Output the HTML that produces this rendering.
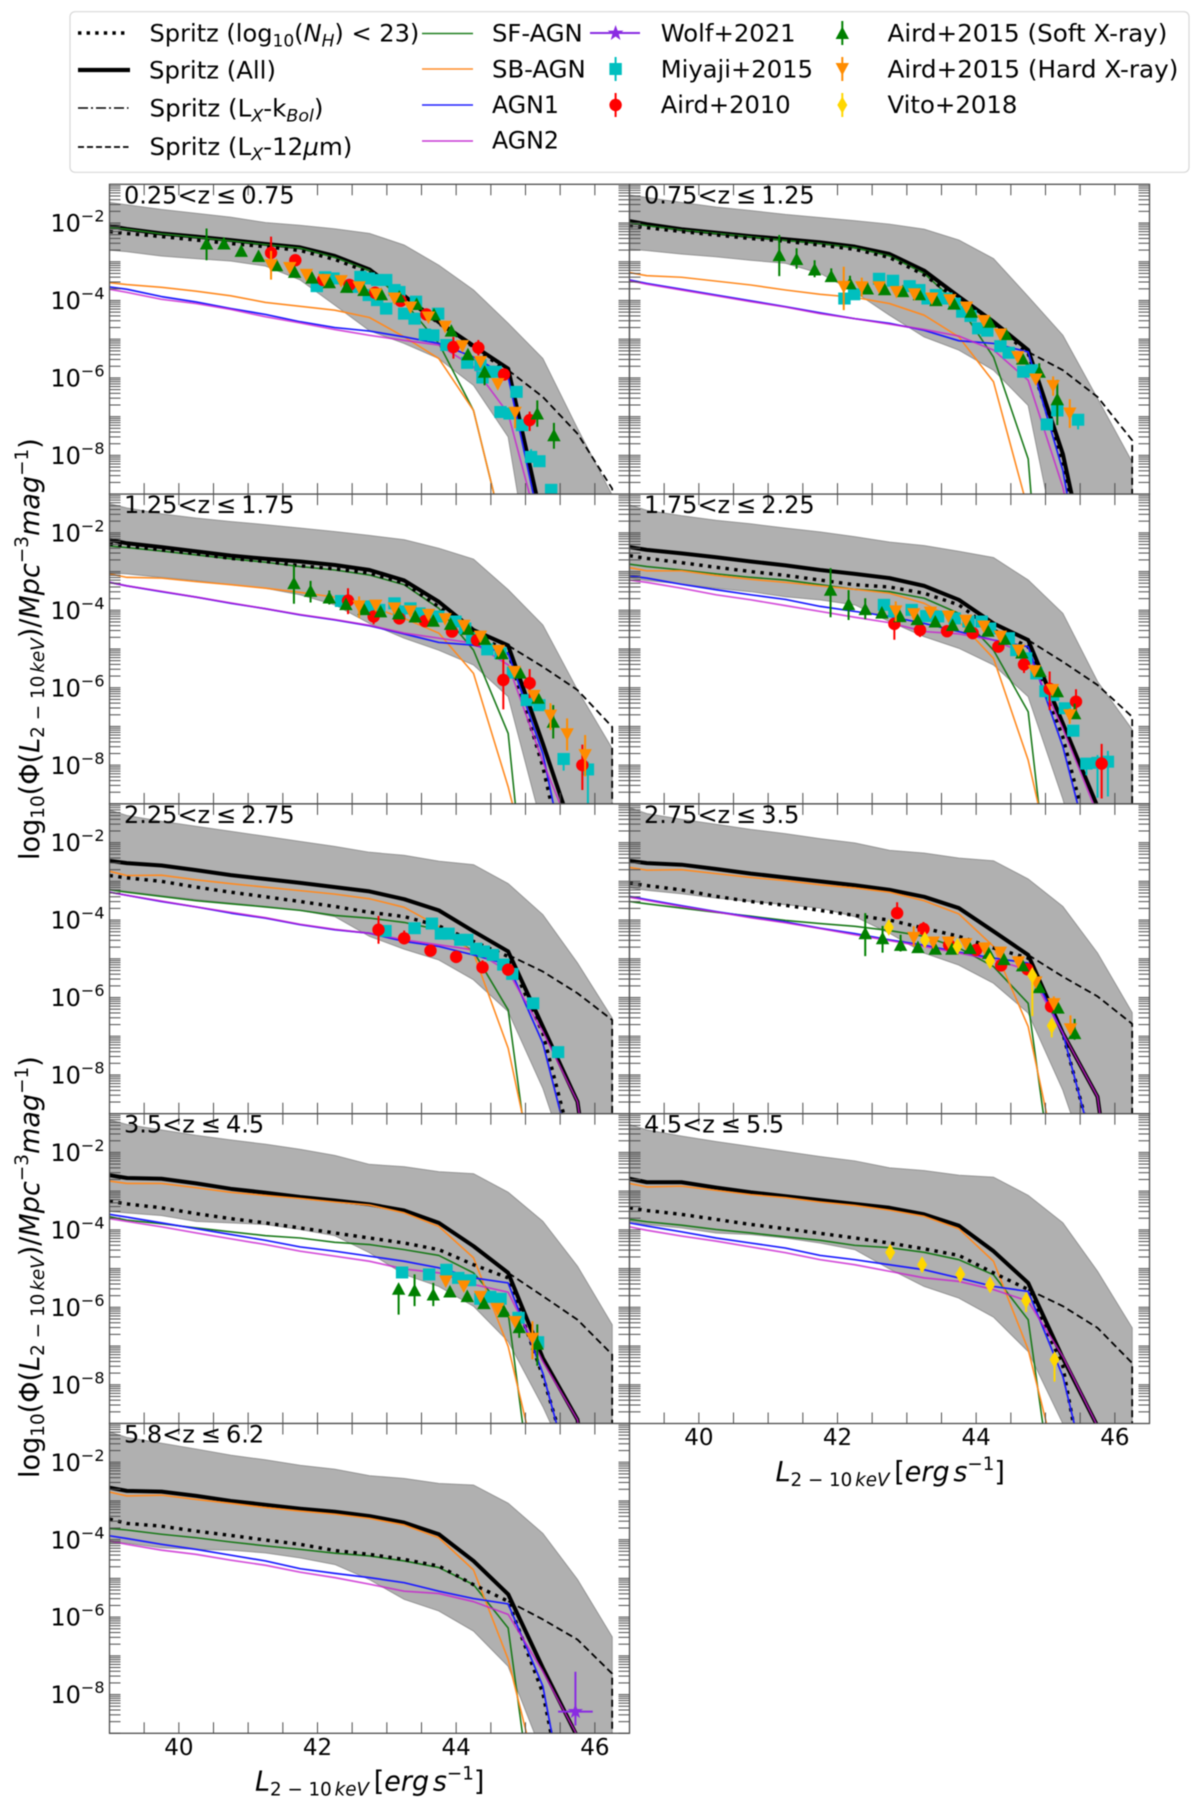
<!DOCTYPE html>
<html lang="en">
<head>
<meta charset="utf-8">
<title>X-ray luminosity functions</title>
<style>
html,body{margin:0;padding:0;background:#fff;width:1200px;height:1812px;overflow:hidden}
svg{display:block;filter:blur(0.4px)}
text{font-family:"DejaVu Sans","Liberation Sans",sans-serif;fill:#000}
.it{font-style:italic}
</style>
</head>
<body>
<svg id="chart" xmlns="http://www.w3.org/2000/svg" width="1200" height="1812" viewBox="0 0 1200 1812">
<rect x="0" y="0" width="1200" height="1812" fill="#fff"/>
<g id="panels"></g>

<g>
<rect x="70" y="11.7" width="1119" height="160.6" rx="5" fill="#fff" stroke="#d8d8d8" stroke-width="1.2"/>
<g>
<line x1="78" x2="128.5" y1="33" y2="33" stroke="#000" stroke-width="3.4" stroke-dasharray="3.4 5.2"/>
<text data-fit="270" data-tf="translate(149.5 41.5)" font-size="24">Spritz (log<tspan font-size="17" dy="5">10</tspan><tspan dy="-5">(</tspan><tspan class="it">N</tspan><tspan class="it" font-size="17" dy="5">H</tspan><tspan dy="-5">) &lt; 23)</tspan></text>
</g>
<g>
<line x1="78" x2="130" y1="70" y2="70" stroke="#000" stroke-width="4.2"/>
<text data-fit="127" data-tf="translate(149 78.5)" font-size="24">Spritz (All)</text>
</g>
<g>
<line x1="78" x2="128.5" y1="108" y2="108" stroke="#000" stroke-width="1.6" stroke-dasharray="10 3 2 3"/>
<text data-fit="174" data-tf="translate(149.5 116.5)" font-size="24">Spritz (L<tspan class="it" font-size="17" dy="5">X</tspan><tspan dy="-5">-k</tspan><tspan class="it" font-size="17" dy="5">Bol</tspan><tspan dy="-5">)</tspan></text>
</g>
<g>
<line x1="78" x2="128.5" y1="147" y2="147" stroke="#000" stroke-width="1.7" stroke-dasharray="6 3"/>
<text data-fit="203" data-tf="translate(149.5 155)" font-size="24">Spritz (L<tspan class="it" font-size="17" dy="5">X</tspan><tspan dy="-5">-12</tspan><tspan class="it">μ</tspan>m)</text>
</g>
<g>
<line x1="422" x2="473" y1="33.5" y2="33.5" stroke="#1f7f1f" stroke-width="1.6"/>
<text data-fit="90.7" data-tf="translate(492 41.5)" font-size="24">SF-AGN</text>
</g>
<g>
<line x1="422" x2="473" y1="69" y2="69" stroke="#ff8c28" stroke-width="1.6"/>
<text data-fit="93.8" data-tf="translate(492 77.5)" font-size="24">SB-AGN</text>
</g>
<g>
<line x1="422" x2="473" y1="105" y2="105" stroke="#2020ff" stroke-width="1.6"/>
<text data-fit="67" data-tf="translate(492 113)" font-size="24">AGN1</text>
</g>
<g>
<line x1="422" x2="473" y1="141" y2="141" stroke="#c838d4" stroke-width="1.6"/>
<text data-fit="67" data-tf="translate(492 148.5)" font-size="24">AGN2</text>
</g>
<g>
<line x1="590" x2="640" y1="33" y2="33" stroke="#8a2be2" stroke-width="2"/>
<polygon fill="#8a2be2" points="615.6,25 617.6,30.6 623.5,30.6 618.8,34.2 620.5,40 615.6,36.5 610.7,40 612.4,34.2 607.7,30.6 613.6,30.6"/>
<text data-fit="135" data-tf="translate(660.7 41.5)" font-size="24">Wolf+2021</text>
</g>
<g>
<line x1="615.6" x2="615.6" y1="57" y2="81" stroke="#00bfbf" stroke-width="2"/>
<rect x="609.4" y="63" width="12.4" height="12" fill="#00bfbf"/>
<text data-fit="152.4" data-tf="translate(660.7 77.5)" font-size="24">Miyaji+2015</text>
</g>
<g>
<line x1="615.6" x2="615.6" y1="93" y2="117" stroke="#f00" stroke-width="2"/>
<circle cx="615.6" cy="105" r="6.2" fill="#f00"/>
<text data-fit="130" data-tf="translate(660.7 113)" font-size="24">Aird+2010</text>
</g>
<g>
<line x1="842.3" x2="842.3" y1="21" y2="45" stroke="#008000" stroke-width="2"/>
<polygon fill="#008000" points="842.3,26.5 849,39 835.6,39"/>
<text data-fit="280" data-tf="translate(887.5 41.5)" font-size="24">Aird+2015 (Soft X-ray)</text>
</g>
<g>
<line x1="842.3" x2="842.3" y1="57" y2="81" stroke="#ff8c00" stroke-width="2"/>
<polygon fill="#ff8c00" points="842.3,75.5 849,63 835.6,63"/>
<text data-fit="291" data-tf="translate(887.5 77.5)" font-size="24">Aird+2015 (Hard X-ray)</text>
</g>
<g>
<line x1="842.3" x2="842.3" y1="93" y2="117" stroke="#ffd700" stroke-width="2"/>
<polygon fill="#ffd700" points="842.3,96.5 847.3,105 842.3,113.5 837.3,105"/>
<text data-fit="130" data-tf="translate(887.5 113)" font-size="24">Vito+2018</text>
</g>
</g>

<text data-fit="419" data-tf="translate(39 860) rotate(-90)" font-size="28">log<tspan font-size="19" dy="5">10</tspan><tspan dy="-5">(Φ(</tspan><tspan class="it">L</tspan><tspan font-size="19" dy="5">2 − 10</tspan><tspan class="it" font-size="19" dx="3">keV</tspan><tspan dy="-5">)/</tspan><tspan class="it">Mpc</tspan><tspan font-size="19" dy="-11">−3</tspan><tspan class="it" dy="11">mag</tspan><tspan font-size="19" dy="-11">−1</tspan><tspan dy="11">)</tspan></text>
<text data-fit="419" data-tf="translate(39 1478) rotate(-90)" font-size="28">log<tspan font-size="19" dy="5">10</tspan><tspan dy="-5">(Φ(</tspan><tspan class="it">L</tspan><tspan font-size="19" dy="5">2 − 10</tspan><tspan class="it" font-size="19" dx="3">keV</tspan><tspan dy="-5">)/</tspan><tspan class="it">Mpc</tspan><tspan font-size="19" dy="-11">−3</tspan><tspan class="it" dy="11">mag</tspan><tspan font-size="19" dy="-11">−1</tspan><tspan dy="11">)</tspan></text>
<text data-fit="218" data-tf="translate(775.5 1481)" font-size="28"><tspan class="it">L</tspan><tspan font-size="19" dy="5">2 − 10</tspan><tspan class="it" font-size="19" dx="3">keV</tspan><tspan dy="-5" dx="5">[</tspan><tspan class="it">erg</tspan><tspan class="it" dx="4">s</tspan><tspan font-size="19" dy="-11">−1</tspan><tspan dy="11">]</tspan></text>
<text data-fit="218" data-tf="translate(255 1790.5)" font-size="28"><tspan class="it">L</tspan><tspan font-size="19" dy="5">2 − 10</tspan><tspan class="it" font-size="19" dx="3">keV</tspan><tspan dy="-5" dx="5">[</tspan><tspan class="it">erg</tspan><tspan class="it" dx="4">s</tspan><tspan font-size="19" dy="-11">−1</tspan><tspan dy="11">]</tspan></text>
</svg>

<script>
// ---------- chart data (log10 L and log10 Phi) ----------
const logL=[39,39.25,39.75,40.25,40.75,41.25,41.75,42.25,42.75,43.25,43.75,44.25,44.75,45.25,45.75,46.25];
const tailL=[44.75,45.25,45.75,46.25];
const panelZLow=["0.25","0.75","1.25","1.75","2.25","2.75","3.5","4.5","5.8"];
const panelZHigh=["0.75","1.25","1.75","2.25","2.75","3.5","4.5","5.5","6.2"];
const xTickValues=[39.5,40,40.5,41,41.5,42,42.5,43,43.5,44,44.5,45,45.5,46];
const xTickLabels=[40,42,44,46];
const yTickExponents=[-2,-4,-6,-8];

const bandUpper=[
[-1.47,-1.53,-1.65,-1.75,-1.85,-1.99,-2.06,-2.15,-2.27,-2.57,-3.09,-3.73,-4.59,-5.50,-7.31,-9.03],
[-1.28,-1.34,-1.47,-1.59,-1.68,-1.78,-1.86,-1.94,-2.03,-2.16,-2.44,-2.92,-3.90,-4.90,-6.53,-8.17],
[-1.25,-1.36,-1.51,-1.62,-1.71,-1.79,-1.88,-1.97,-2.07,-2.18,-2.40,-2.68,-3.47,-4.38,-6.06,-7.57],
[-1.28,-1.42,-1.56,-1.68,-1.77,-1.88,-1.98,-2.10,-2.24,-2.33,-2.48,-2.64,-3.22,-4.08,-5.84,-7.08],
[-1.16,-1.30,-1.45,-1.58,-1.71,-1.84,-1.97,-2.10,-2.25,-2.33,-2.48,-2.57,-3.06,-3.86,-5.11,-6.53],
[-1.10,-1.25,-1.40,-1.53,-1.66,-1.77,-1.90,-2.01,-2.20,-2.27,-2.40,-2.47,-2.94,-3.65,-4.85,-6.39],
[-1.16,-1.28,-1.42,-1.56,-1.68,-1.79,-1.92,-2.08,-2.31,-2.37,-2.50,-2.55,-3.03,-3.78,-4.94,-6.45],
[-1.28,-1.42,-1.58,-1.72,-1.85,-1.98,-2.11,-2.22,-2.40,-2.47,-2.59,-2.64,-3.11,-3.82,-5.07,-6.53],
[-1.22,-1.36,-1.51,-1.66,-1.82,-1.94,-2.08,-2.18,-2.35,-2.42,-2.55,-2.59,-3.06,-3.84,-5.03,-6.51]];
const bandLower=[
[-2.70,-2.74,-2.85,-2.92,-2.98,-3.11,-3.47,-4.12,-4.78,-5.11,-5.50,-6.19,-7.52,-12.9,-16,-18],
[-2.67,-2.71,-2.80,-2.87,-2.96,-3.04,-3.30,-3.78,-4.38,-4.94,-5.28,-5.80,-6.71,-11.1,-15,-17],
[-3.03,-3.06,-3.15,-3.23,-3.34,-3.43,-3.60,-3.86,-4.34,-4.72,-5.03,-5.41,-6.23,-9.65,-13,-15],
[-3.17,-3.23,-3.32,-3.43,-3.52,-3.65,-3.73,-3.86,-4.29,-4.68,-4.98,-5.41,-6.23,-8.87,-12,-14],
[-3.20,-3.26,-3.37,-3.47,-3.56,-3.65,-3.75,-3.91,-4.42,-4.75,-5.03,-5.54,-6.36,-8.34,-11,-15],
[-3.17,-3.23,-3.32,-3.43,-3.52,-3.60,-3.69,-3.91,-4.34,-4.85,-5.16,-5.63,-6.40,-8.39,-11,-15],
[-3.52,-3.56,-3.63,-3.78,-3.82,-3.86,-3.99,-4.15,-4.59,-5.15,-5.46,-5.97,-6.88,-8.56,-10.5,-15],
[-3.78,-3.86,-3.95,-4.08,-4.12,-4.21,-4.34,-4.51,-5.01,-5.46,-5.76,-6.25,-7.14,-9.0,-13,-15],
[-4.08,-4.09,-4.21,-4.25,-4.27,-4.34,-4.47,-4.64,-5.03,-5.54,-5.84,-6.36,-7.27,-9.55,-13,-15]];
const spritzAll=[
[-2.08,-2.155,-2.27,-2.35,-2.44,-2.54,-2.63,-2.85,-3.20,-3.88,-4.56,-5.17,-5.76,-9.77,-13,-15],
[-1.95,-2.03,-2.16,-2.25,-2.34,-2.42,-2.50,-2.61,-2.80,-3.23,-3.90,-4.55,-5.28,-7.96,-12.1,-15],
[-2.18,-2.27,-2.37,-2.48,-2.59,-2.67,-2.74,-2.83,-2.96,-3.23,-3.78,-4.51,-4.91,-7.44,-10.1,-13],
[-2.37,-2.44,-2.53,-2.63,-2.74,-2.84,-2.96,-3.06,-3.17,-3.37,-3.73,-4.34,-4.77,-6.92,-9.07,-12],
[-2.47,-2.53,-2.59,-2.71,-2.84,-2.94,-3.04,-3.15,-3.26,-3.46,-3.75,-4.29,-4.81,-6.75,-8.69,-15],
[-2.47,-2.53,-2.57,-2.68,-2.80,-2.90,-3.00,-3.10,-3.22,-3.40,-3.69,-4.29,-4.90,-6.92,-8.56,-15],
[-2.59,-2.66,-2.68,-2.80,-2.94,-3.04,-3.15,-3.24,-3.34,-3.50,-3.82,-4.42,-5.11,-7.31,-8.90,-15],
[-2.68,-2.77,-2.77,-2.91,-3.03,-3.13,-3.23,-3.33,-3.43,-3.60,-3.89,-4.55,-5.37,-7.31,-9.07,-15],
[-2.66,-2.74,-2.76,-2.87,-3.00,-3.10,-3.20,-3.28,-3.39,-3.56,-3.86,-4.55,-5.41,-7.31,-9.10,-15]];
const spritzNh23=[
[-2.22,-2.27,-2.35,-2.44,-2.53,-2.61,-2.71,-2.94,-3.28,-3.92,-4.59,-5.20,-5.84,-9.94,-13,-15],
[-2.07,-2.12,-2.22,-2.31,-2.40,-2.47,-2.57,-2.68,-2.89,-3.34,-3.99,-4.59,-5.37,-8.21,-13,-15],
[-2.29,-2.34,-2.44,-2.54,-2.66,-2.74,-2.85,-2.93,-3.04,-3.30,-3.91,-4.59,-5.07,-8.04,-12,-15],
[-2.59,-2.66,-2.77,-2.89,-3.00,-3.10,-3.22,-3.34,-3.40,-3.56,-3.86,-4.51,-4.94,-7.27,-10.75,-14],
[-2.85,-2.91,-3.00,-3.15,-3.28,-3.40,-3.52,-3.65,-3.80,-3.91,-4.15,-4.55,-4.94,-6.92,-10.4,-14],
[-3.04,-3.11,-3.22,-3.39,-3.52,-3.62,-3.75,-3.88,-4.00,-4.21,-4.42,-4.72,-4.98,-6.92,-10.3,-14],
[-3.26,-3.33,-3.43,-3.58,-3.71,-3.82,-3.95,-4.08,-4.21,-4.34,-4.51,-4.90,-5.24,-7.78,-10.8,-14],
[-3.43,-3.50,-3.60,-3.73,-3.86,-3.97,-4.09,-4.21,-4.34,-4.49,-4.66,-5.11,-5.54,-7.52,-12.4,-15],
[-3.47,-3.58,-3.65,-3.78,-3.89,-4.01,-4.12,-4.28,-4.38,-4.51,-4.68,-5.16,-5.59,-7.96,-12.4,-15]];
const sfAgn=[
[-2.12,-2.16,-2.28,-2.37,-2.46,-2.56,-2.65,-2.89,-3.23,-4.03,-5.11,-6.84,-10.5,-13,-15,-17],
[-1.99,-2.07,-2.18,-2.27,-2.36,-2.45,-2.53,-2.64,-2.85,-3.30,-4.12,-5.46,-8.09,-19,-20,-20],
[-2.34,-2.38,-2.47,-2.57,-2.67,-2.76,-2.87,-2.96,-3.09,-3.34,-3.95,-5.03,-7.18,-16,-18,-20],
[-2.81,-2.87,-2.96,-3.06,-3.15,-3.22,-3.34,-3.46,-3.52,-3.69,-4.08,-5.03,-6.62,-14.5,-16,-18],
[-3.22,-3.28,-3.39,-3.50,-3.58,-3.66,-3.75,-3.88,-3.95,-4.06,-4.25,-4.81,-6.32,-13,-15,-17],
[-3.52,-3.58,-3.69,-3.80,-3.90,-4.01,-4.09,-4.16,-4.27,-4.42,-4.72,-5.20,-6.15,-12.65,-15,-17],
[-3.66,-3.75,-3.84,-3.95,-4.05,-4.15,-4.21,-4.32,-4.38,-4.51,-4.66,-5.11,-6.15,-13,-15,-17],
[-3.73,-3.79,-3.88,-3.99,-4.08,-4.18,-4.27,-4.40,-4.46,-4.58,-4.77,-5.16,-6.32,-12.7,-15,-17],
[-3.71,-3.75,-3.86,-3.95,-4.06,-4.16,-4.25,-4.35,-4.42,-4.55,-4.72,-5.16,-6.28,-12.9,-15,-17]];
const sbAgn=[
[-3.54,-3.59,-3.66,-3.76,-3.88,-4.05,-4.15,-4.25,-4.44,-4.94,-5.50,-6.84,-10.5,-13,-15,-17],
[-3.28,-3.36,-3.40,-3.50,-3.60,-3.73,-3.84,-3.92,-4.08,-4.38,-4.94,-6.10,-9.42,-14,-16,-18],
[-3.06,-3.15,-3.17,-3.26,-3.34,-3.43,-3.54,-3.66,-3.90,-4.21,-4.59,-5.63,-8.56,-12.1,-15,-17],
[-2.90,-2.98,-2.98,-3.10,-3.20,-3.28,-3.37,-3.46,-3.56,-3.82,-4.29,-5.24,-7.87,-11.8,-15,-17],
[-2.74,-2.85,-2.84,-2.96,-3.06,-3.15,-3.24,-3.33,-3.45,-3.67,-4.16,-4.85,-7.31,-11.5,-15,-17],
[-2.64,-2.71,-2.70,-2.80,-2.90,-2.98,-3.09,-3.17,-3.28,-3.50,-3.84,-4.68,-6.75,-11,-14,-16],
[-2.74,-2.80,-2.80,-2.91,-3.03,-3.11,-3.19,-3.28,-3.36,-3.56,-3.91,-4.72,-7.01,-10.8,-14,-16],
[-2.80,-2.89,-2.87,-2.98,-3.09,-3.17,-3.28,-3.37,-3.49,-3.65,-3.97,-4.81,-7.09,-10.7,-14,-16],
[-2.77,-2.87,-2.85,-2.96,-3.06,-3.17,-3.26,-3.34,-3.45,-3.62,-3.95,-4.78,-7.09,-10.7,-14,-16]];
const agn1=[
[-3.65,-3.71,-3.90,-4.04,-4.21,-4.36,-4.55,-4.70,-4.79,-4.94,-5.11,-5.46,-5.97,-10.15,-13,-15],
[-3.47,-3.56,-3.71,-3.86,-4.01,-4.16,-4.32,-4.47,-4.59,-4.77,-5.04,-5.11,-5.33,-8.39,-13.3,-15],
[-3.28,-3.37,-3.52,-3.66,-3.82,-3.96,-4.12,-4.25,-4.40,-4.61,-4.83,-4.90,-5.11,-7.70,-12,-14],
[-3.11,-3.17,-3.33,-3.47,-3.60,-3.72,-3.90,-4.03,-4.16,-4.34,-4.55,-4.77,-4.94,-7.52,-11,-14],
[-3.28,-3.36,-3.52,-3.66,-3.82,-3.95,-4.12,-4.25,-4.34,-4.55,-4.68,-4.90,-5.15,-7.18,-10.7,-14],
[-3.39,-3.47,-3.63,-3.78,-3.92,-4.05,-4.21,-4.35,-4.51,-4.65,-4.83,-4.98,-5.11,-6.92,-10.3,-14],
[-3.60,-3.67,-3.82,-3.97,-4.12,-4.27,-4.44,-4.55,-4.68,-4.81,-4.98,-5.24,-5.37,-7.70,-11,-14],
[-3.82,-3.90,-4.05,-4.21,-4.34,-4.47,-4.66,-4.77,-4.90,-5.03,-5.24,-5.46,-5.59,-7.78,-11.5,-14],
[-3.90,-3.97,-4.12,-4.25,-4.40,-4.55,-4.75,-4.87,-4.98,-5.11,-5.33,-5.52,-5.66,-7.78,-12.5,-15]];
const agn2=[
[-3.71,-3.79,-3.97,-4.08,-4.23,-4.42,-4.58,-4.75,-4.90,-5.03,-5.15,-5.71,-6.92,-10.3,-13,-15],
[-3.49,-3.58,-3.73,-3.88,-4.03,-4.17,-4.34,-4.47,-4.61,-4.75,-4.92,-5.28,-6.06,-8.82,-13,-15],
[-3.28,-3.37,-3.51,-3.66,-3.81,-3.96,-4.11,-4.24,-4.39,-4.59,-4.72,-4.85,-5.41,-7.91,-10.1,-14],
[-3.22,-3.28,-3.43,-3.60,-3.73,-3.88,-4.03,-4.18,-4.32,-4.55,-4.61,-4.77,-5.15,-7.05,-9.27,-14],
[-3.28,-3.36,-3.51,-3.66,-3.80,-3.94,-4.11,-4.24,-4.34,-4.51,-4.64,-4.77,-5.33,-6.88,-8.69,-15],
[-3.41,-3.49,-3.65,-3.79,-3.94,-4.07,-4.22,-4.38,-4.53,-4.68,-4.85,-5.03,-5.28,-6.92,-8.56,-15],
[-3.71,-3.78,-3.92,-4.08,-4.23,-4.38,-4.55,-4.68,-4.81,-5.01,-5.11,-5.41,-5.61,-7.40,-8.90,-15],
[-3.92,-4.01,-4.16,-4.29,-4.44,-4.59,-4.77,-4.90,-5.07,-5.24,-5.33,-5.54,-5.84,-7.27,-9.07,-15],
[-4.03,-4.12,-4.27,-4.38,-4.53,-4.66,-4.84,-4.98,-5.15,-5.33,-5.39,-5.60,-5.93,-7.40,-9.07,-15]];
const spritz12um=[
[-5.80,-6.49,-7.44,-8.86],[-5.33,-5.80,-6.49,-7.61],[-4.91,-5.46,-6.06,-7.01],
[-4.77,-5.33,-5.93,-6.75],[-4.90,-5.33,-5.89,-6.58],[-4.90,-5.46,-5.97,-6.68],
[-5.11,-5.71,-6.32,-7.22],[-5.54,-5.97,-6.53,-7.44],[-5.59,-6.06,-6.58,-7.46]];

// observational points: [logL, logPhi, errDown, errUp]
const miyaji2015=[
[[41.99,-3.63],[42.11,-3.40],[42.23,-3.43],[42.50,-3.65],[42.62,-3.39],[42.74,-3.43],[42.86,-3.47],[42.99,-3.47],[42.74,-3.86],[42.86,-3.99],[42.99,-4.21],[43.11,-3.73],[43.18,-3.78],[43.25,-4.34],[43.40,-4.47],[43.42,-4.03],[43.55,-4.88],[43.67,-4.90],[43.74,-4.34],[43.86,-5.15],[44.16,-5.61],[44.35,-5.67],[44.38,-5.99],[44.47,-5.84],[44.57,-5.84],[44.64,-6.88],[44.77,-6.92],[44.87,-6.36],[44.95,-7.22],[45.08,-8.04,0.1,0.2],[45.20,-8.15],[45.37,-8.89,0.3,0.1]],
[[42.10,-3.95],[42.24,-3.84],[42.60,-3.44],[42.80,-3.49],[43.04,-3.63],[43.18,-3.73],[43.30,-3.95],[43.42,-3.86],[43.57,-3.95],[43.69,-4.08],[43.80,-4.29],[43.92,-4.40],[44.03,-4.72],[44.16,-4.78],[44.35,-5.18],[44.47,-5.35],[44.68,-5.84],[44.80,-5.80],[45.02,-7.20],[45.17,-6.84],[45.47,-7.08,0.25,0.1]],
[[42.34,-3.76],[42.74,-3.90],[42.89,-3.99],[43.11,-3.82],[43.18,-4.03],[43.34,-3.95],[43.47,-4.08],[43.60,-4.12],[43.74,-4.16],[43.99,-4.29],[44.13,-4.47],[44.23,-4.72],[44.45,-5.01],[44.64,-5.11],[44.82,-5.61],[45.02,-6.32],[45.20,-6.45],[45.55,-7.84,0.3,0.1],[45.90,-8.11,0.89,0.2]],
[[42.67,-3.86],[42.82,-4.03],[43.07,-3.99],[43.28,-4.15],[43.45,-4.16],[43.69,-4.21],[43.89,-4.29],[44.08,-4.29],[44.20,-4.47],[44.47,-4.72],[44.58,-5.03],[44.72,-5.24],[44.87,-5.63],[45.00,-6.09],[45.11,-6.19],[45.28,-6.53],[45.40,-7.11],[45.59,-7.96,0.3,0.1],[45.75,-7.94,0.9,0.2],[45.90,-7.91,0.9,0.28]],
[[42.98,-4.28],[43.40,-4.21],[43.65,-4.09],[43.78,-4.35],[43.89,-4.35],[44.06,-4.51],[44.16,-4.51],[44.29,-4.74],[44.40,-4.81],[44.53,-4.90],[44.68,-5.15],[44.81,-5.39],[45.11,-6.15],[45.47,-7.41]],
[],
[[43.22,-5.10],[43.61,-5.15],[43.86,-5.03],[44.03,-5.24],[44.20,-5.30],[44.35,-5.78],[44.49,-5.73],[44.64,-5.78],[44.90,-6.27],[45.18,-6.90]],
[],[]];
const aird2010=[
[[41.33,-2.77,0.42,0.42],[41.68,-2.96],[42.08,-3.47],[42.46,-3.60],[42.83,-3.80],[43.20,-4.01],[43.57,-4.36],[43.96,-5.20,0.3,0.26],[44.32,-5.22,0.2,0.2],[44.69,-5.91],[45.06,-7.09,0.28,0.22]],
[],
[[42.44,-3.75,0.35,0.32],[42.81,-4.16,0.2,0.05],[43.18,-4.21],[43.55,-4.28],[43.94,-4.55],[44.30,-4.77],[44.68,-5.80,0.76,0.56],[45.06,-5.88,0.39,0.36],[45.82,-8.00,0.64,0.53]],
[[42.82,-4.35,0.41,0.1],[43.19,-4.51,0.18,0.1],[43.58,-4.54],[43.95,-4.59],[44.32,-4.94],[44.69,-5.40,0.22,0.1],[45.06,-6.03,0.55,0.45],[45.44,-6.36,0.32,0.32],[45.81,-7.96,0.9,0.51]],
[[42.88,-4.25,0.36,0.36],[43.25,-4.47,0.1,0.2],[43.63,-4.79],[44.00,-4.95,0.05,0.1],[44.38,-5.22,0.1,0.18],[44.75,-5.28]],
[[42.86,-3.82,0.1,0.28],[43.24,-4.23,0.05,0.18],[43.61,-4.64],[44.00,-4.77],[44.36,-5.17],[44.74,-5.27],[45.08,-6.23]],
[],[],[]];
const aird2015Soft=[
[[40.40,-2.53,0.43,0.39],[40.65,-2.53,0.15,0.15],[40.90,-2.72],[41.15,-2.85],[41.41,-3.09],[41.67,-3.26],[41.92,-3.41],[42.17,-3.53],[42.42,-3.65],[42.67,-3.73],[42.92,-3.84],[43.18,-3.90],[43.43,-4.09],[43.68,-4.36],[43.93,-4.78],[44.17,-5.39],[44.41,-5.84,0.35,0.1],[45.17,-6.92,0.34,0.34],[45.41,-7.48,0.35,0.32]],
[[41.16,-2.83,0.54,0.52],[41.41,-2.93,0.25,0.28],[41.67,-3.20,0.2,0.24],[41.91,-3.37,0.1,0.2],[42.18,-3.56,0.1,0.2],[42.43,-3.69,0.1,0.15],[42.68,-3.71],[42.94,-3.76,0.05,0.1],[43.18,-3.84],[43.42,-3.99],[43.68,-4.08],[43.93,-4.29],[44.19,-4.55],[44.43,-4.87,0.1,0.15],[44.67,-5.50],[44.91,-5.84,0.22,0.22],[45.17,-6.55,0.67,0.5]],
[[41.66,-3.30,0.53,0.47],[41.90,-3.50,0.3,0.26],[42.17,-3.67,0.18,0.18],[42.41,-3.84],[42.67,-3.97],[42.91,-4.03],[43.17,-4.08],[43.41,-4.16],[43.67,-4.27],[43.92,-4.35],[44.17,-4.48],[44.41,-4.74],[44.66,-5.11],[44.92,-5.61],[45.18,-6.26,0.1,0.2],[45.40,-6.88,0.43,0.43]],
[[41.90,-3.47,0.71,0.56],[42.16,-3.84,0.41,0.36],[42.40,-3.97,0.26,0.28],[42.64,-4.06],[42.90,-4.15],[43.15,-4.23],[43.41,-4.29],[43.66,-4.38],[43.91,-4.42],[44.17,-4.53],[44.41,-4.74],[44.66,-5.09],[44.92,-5.57],[45.17,-6.09],[45.42,-6.66,0.1,0.25]],
[],
[[42.40,-4.34,0.59,0.52],[42.65,-4.47,0.37,0.32],[42.91,-4.64,0.17,0.26],[43.16,-4.70],[43.41,-4.74],[43.65,-4.74],[43.91,-4.72],[44.18,-4.85],[44.40,-5.01],[44.67,-5.17],[44.91,-5.73],[45.18,-6.26],[45.42,-6.92,0.17,0.37]],
[[43.17,-5.52,0.67,0.1],[43.40,-5.56,0.41,0.41],[43.67,-5.67,0.3,0.3],[43.91,-5.59],[44.16,-5.71],[44.40,-5.89],[44.69,-6.10],[44.91,-6.51,0.28,0.2],[45.17,-6.94,0.57,0.5]],
[],[]];
const aird2015Hard=[
[[41.33,-3.09,0.37,0.37],[41.60,-3.16],[41.84,-3.34],[42.10,-3.47],[42.34,-3.50],[42.60,-3.66],[42.84,-3.84],[43.11,-3.95],[43.34,-4.18],[43.60,-4.44],[43.84,-4.68],[44.09,-5.18],[44.35,-5.59],[44.60,-6.16],[44.85,-6.90,0.4,0.1]],
[[42.09,-3.65,0.6,0.52],[42.35,-3.66,0.25,0.25],[42.60,-3.66],[42.85,-3.78],[43.11,-3.84],[43.36,-3.95],[43.62,-3.99],[43.86,-4.18],[44.11,-4.53],[44.35,-4.88],[44.60,-5.46],[44.86,-6.04],[45.11,-6.21,0.25,0.25],[45.35,-6.92,0.37,0.37]],
[[42.60,-3.90,0.3,0.26],[42.84,-3.88],[43.11,-3.95],[43.34,-4.03],[43.60,-4.12],[43.84,-4.23],[44.11,-4.40],[44.35,-4.68],[44.61,-5.05],[44.84,-5.59],[45.12,-6.21],[45.36,-6.72,0.37,0.32],[45.60,-7.20,0.42,0.41],[45.86,-7.74,0.55,0.52]],
[[42.84,-4.03,0.26,0.26],[43.10,-4.10],[43.34,-4.06],[43.60,-4.16],[43.85,-4.27],[44.11,-4.42],[44.35,-4.68],[44.61,-5.04],[44.84,-5.57],[45.10,-6.06],[45.35,-6.71,0.22,0.17]],
[],
[[43.10,-4.46,0.22,0.3],[43.38,-4.58],[43.60,-4.58],[43.85,-4.62],[44.12,-4.73],[44.35,-4.84],[44.61,-5.09],[44.86,-5.61],[45.12,-6.17,0.1,0.2],[45.36,-6.82,0.1,0.36]],
[[43.85,-5.33],[44.11,-5.46],[44.35,-5.73,0.1,0.15],[44.60,-6.04,0.15,0.1],[44.85,-6.38],[45.10,-6.81,0.53,0.45]],
[],[]];
const vito2018=[
[],[],[],[],[],
[[42.74,-4.19],[43.26,-4.51],[43.73,-4.68],[44.20,-5.05],[44.81,-5.43,1.05,0],[45.09,-6.73,0.3,0]],
[],
[[42.76,-4.58],[43.22,-4.90],[43.77,-5.15],[44.20,-5.42],[44.72,-5.82,0.3,0],[45.13,-7.35,0.57,0]],
[]];
const wolf2021=[[],[],[],[],[],[],[],[],[[45.72,-8.44,0.36,1.03,0.25]]];

// ---------- axis functions ----------
const NS='http://www.w3.org/2000/svg';
const X_MIN=39,X_MAX=46.5,Y_TOP=-1,Y_BOTTOM=-9,Y_CUT=-9.1;
const PANEL_W=520,PANEL_H=309.8,LEFT=109.5,TOP=184.3;
const root=document.getElementById('panels');

function add(parent,tag,attrs,name){
  const e=document.createElementNS(NS,tag);
  for(const k in attrs){e.setAttribute(k,attrs[k]);}
  
  
  parent.appendChild(e);
  return e;
}
// keep only the part of a curve above the axis floor, ending where it crosses the floor
function visible(xs,ys){
  const out=[];
  for(let i=0;i<xs.length;i++){
    if(ys[i]>=Y_CUT){out.push([xs[i],ys[i]]);continue;}
    if(i>0){
      const f=(ys[i-1]-Y_CUT)/(ys[i-1]-ys[i]);
      out.push([xs[i-1]+f*(xs[i]-xs[i-1]),Y_CUT]);
    }
    break;
  }
  return out;
}
function pathOf(pts,sx,sy,first){
  return pts.map((p,i)=>((i||!first)?'L':'M')+sx(p[0]).toFixed(2)+' '+sy(p[1]).toFixed(2)).join(' ');
}
function drawMarker(g,shape,px,py,color,name){
  if(shape==='square'){add(g,'rect',{x:px-6.2,y:py-6,width:12.4,height:12,fill:color},name);}
  else if(shape==='circle'){add(g,'circle',{cx:px,cy:py,r:6.2,fill:color},name);}
  else if(shape==='up'){add(g,'polygon',{points:`${px},${py-6.6} ${px+6.7},${py+6} ${px-6.7},${py+6}`,fill:color},name);}
  else if(shape==='down'){add(g,'polygon',{points:`${px},${py+6.6} ${px+6.7},${py-6} ${px-6.7},${py-6}`,fill:color},name);}
  else if(shape==='diamond'){add(g,'polygon',{points:`${px},${py-8.5} ${px+5},${py} ${px},${py+8.5} ${px-5},${py}`,fill:color},name);}
  else{
    const pts=[];
    for(let i=0;i<10;i++){const r=i%2?3.2:8;const a=-Math.PI/2+i*Math.PI/5;pts.push((px+r*Math.cos(a)).toFixed(1)+','+(py+r*Math.sin(a)).toFixed(1));}
    add(g,'polygon',{points:pts.join(' '),fill:color},name);
  }
}
function drawPoints(g,points,shape,color,name,sx,sy){
  points.forEach(p=>{
    const L=p[0],v=p[1],lo=p[2]||0,hi=p[3]||0,xe=p[4]||0;
    if(lo||hi){add(g,'line',{x1:sx(L),x2:sx(L),y1:sy(v-lo),y2:sy(v+hi),stroke:color,'stroke-width':2},name+'-errorbar');}
    if(xe){add(g,'line',{x1:sx(L-xe),x2:sx(L+xe),y1:sy(v),y2:sy(v),stroke:color,'stroke-width':2},name+'-errorbar');}
    drawMarker(g,shape,sx(L),sy(v),color,name+'-point');
  });
}

panelZLow.forEach((zLow,i)=>{
  const col=i%2,row=Math.floor(i/2);
  const x0=LEFT+col*PANEL_W,y0=TOP+row*PANEL_H;
  const sx=L=>x0+(L-X_MIN)/(X_MAX-X_MIN)*PANEL_W;
  const sy=v=>y0+(Y_TOP-v)/(Y_TOP-Y_BOTTOM)*PANEL_H;
  const g=add(root,'g',{},'panel-'+(i+1));
  const clip=add(g,'clipPath',{id:'clip'+i},'panel-clip');
  add(clip,'rect',{x:x0,y:y0,width:PANEL_W,height:PANEL_H},'panel-clip-rect');
  add(g,'rect',{x:x0,y:y0,width:PANEL_W,height:PANEL_H,fill:'#fff'},'plot-area');
  const plot=add(g,'g',{'clip-path':'url(#clip'+i+')'},'plot-content');

  const up=visible(logL,bandUpper[i]);
  const low=visible(logL,bandLower[i]);
  const lastL=logL[logL.length-1];
  if(low[low.length-1][0]<lastL){low.push([lastL,Y_CUT]);}
  add(plot,'path',{d:pathOf(up,sx,sy,true)+' '+pathOf(low.reverse(),sx,sy,false)+' Z',fill:'#b0b0b0',stroke:'#939393','stroke-width':1},'uncertainty-band');

  const line=(vals,stroke,w,name,dash,op)=>{
    const a={d:pathOf(visible(logL,vals),sx,sy,true),fill:'none',stroke:stroke,'stroke-width':w,'stroke-linejoin':'round'};
    if(dash){a['stroke-dasharray']=dash;}
    if(op){a['stroke-opacity']=op;}
    return add(plot,'path',a,name);
  };
  line(spritzAll[i],'#000',4,'line-spritz-all');
  line(spritzAll[i],'#000',1.5,'line-spritz-kbol','10 3 2 3');
  line(sfAgn[i],'#1a7a1a',1.6,'line-sf-agn');
  line(sbAgn[i],'#ff8a20',1.6,'line-sb-agn');
  line(spritzNh23[i],'#000',3.4,'line-spritz-nh23','3.4 5.4');
  const tail=visible(tailL,spritz12um[i]);
  tail.push([tailL[tailL.length-1],Y_CUT]);
  add(plot,'path',{d:pathOf(tail,sx,sy,true),fill:'none',stroke:'#000','stroke-width':1.8,'stroke-dasharray':'7 4'},'line-spritz-12um');
  line(agn1[i],'#1c1cff',1.7,'line-agn1');
  line(agn2[i],'#c81ed0',1.7,'line-agn2',null,0.78);

  drawPoints(plot,miyaji2015[i],'square','#00bfbf','miyaji-2015',sx,sy);
  drawPoints(plot,aird2010[i],'circle','#ff0000','aird-2010',sx,sy);
  drawPoints(plot,aird2015Soft[i],'up','#008000','aird-2015-soft',sx,sy);
  drawPoints(plot,aird2015Hard[i],'down','#ff8c00','aird-2015-hard',sx,sy);
  drawPoints(plot,vito2018[i],'diamond','#ffd700','vito-2018',sx,sy);
  drawPoints(plot,wolf2021[i],'star','#8a2be2','wolf-2021',sx,sy);

  // ticks (inward on all four sides)
  const ticks=add(g,'g',{stroke:'#4d4d4d','stroke-width':1},'axis-ticks');
  xTickValues.forEach(v=>{
    add(ticks,'line',{x1:sx(v),x2:sx(v),y1:y0,y2:y0+11},'x-tick-top');
    add(ticks,'line',{x1:sx(v),x2:sx(v),y1:y0+PANEL_H,y2:y0+PANEL_H-11},'x-tick-bottom');
  });
  for(let d=Y_BOTTOM;d<Y_TOP;d++){
    for(let k=1;k<=9;k++){
      const py=sy(d+Math.log10(k));
      add(ticks,'line',{x1:x0,x2:x0+11,y1:py,y2:py},'y-tick-left');
      add(ticks,'line',{x1:x0+PANEL_W,x2:x0+PANEL_W-11,y1:py,y2:py},'y-tick-right');
    }
  }
  add(g,'rect',{x:x0,y:y0,width:PANEL_W,height:PANEL_H,fill:'none',stroke:'#4d4d4d','stroke-width':1.3},'panel-frame');

  // redshift label
  const lab=add(g,'text',{x:x0+14.5,y:y0+19,'font-size':24},'redshift-label');
  lab.appendChild(document.createTextNode(zLow+'<z'));
  const le=add(lab,'tspan',{dx:6},'redshift-relation');
  le.textContent='≤';
  const hi=add(lab,'tspan',{dx:5},'redshift-upper');
  hi.textContent=panelZHigh[i];

  // y tick labels (left column only)
  if(col===0){
    yTickExponents.forEach(exp=>{
      const t=add(g,'text',{x:x0-5,y:sy(exp)+8.6,'font-size':24,'text-anchor':'end'},'y-tick-label');
      t.appendChild(document.createTextNode('10'));
      const s=add(t,'tspan',{'font-size':16,dy:-10},'y-tick-exponent');
      s.textContent='−'+Math.abs(exp);
    });
  }
  // x tick labels (bottom panel of each column)
  if(i===7||i===8){
    xTickLabels.forEach(v=>{
      const t=add(g,'text',{x:sx(v),y:y0+PANEL_H+21.5,'font-size':23,'text-anchor':'middle'},'x-tick-label');
      t.textContent=String(v);
    });
  }
});

// fit mixed-script labels to their measured width
document.querySelectorAll('text[data-fit]').forEach(t=>{
  const sxFit=parseFloat(t.getAttribute('data-fit'))/t.getComputedTextLength();
  t.setAttribute('transform',t.getAttribute('data-tf')+' scale('+sxFit.toFixed(4)+' 1)');
});
</script>
</body>
</html>
